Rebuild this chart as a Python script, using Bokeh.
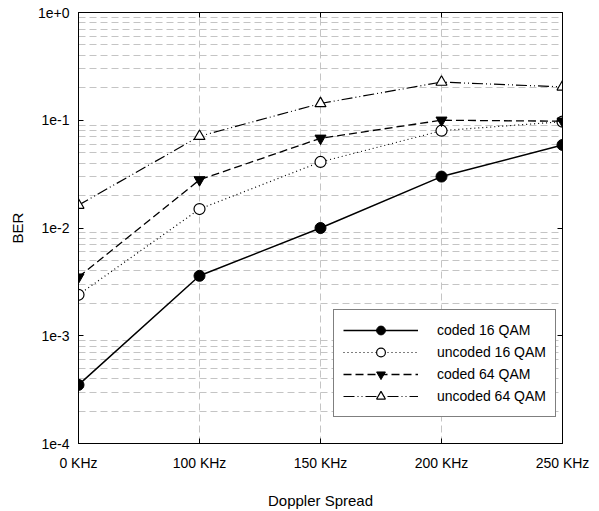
from bokeh.plotting import figure
from bokeh.models import FixedTicker, LinearAxis, LogAxis, Range1d
from bokeh.embed import file_html
from bokeh.resources import INLINE

# ---- data ----
x_labels = ["0 KHz", "100 KHz", "150 KHz", "200 KHz", "250 KHz"]
coded_16qam = [3.5e-4, 3.6e-3, 1.0e-2, 3.0e-2, 5.9e-2]
uncoded_16qam = [2.4e-3, 1.5e-2, 4.1e-2, 8.0e-2, 9.7e-2]
coded_64qam = [3.5e-3, 2.8e-2, 6.8e-2, 1.0e-1, 9.8e-2]
uncoded_64qam = [1.63e-2, 7.1e-2, 1.43e-1, 2.26e-1, 2.04e-1]
y_tick_values = [1e-4, 1e-3, 1e-2, 1e-1, 1e0]
y_tick_labels = ["1e-4", "1e-3", "1e-2", "1e-1", "1e+0"]

x_idx = list(range(len(x_labels)))
FONT = "Liberation Sans"

p = figure(width=599, height=511, y_axis_type="log",
           x_range=Range1d(x_idx[0], x_idx[-1]),
           y_range=Range1d(y_tick_values[0], y_tick_values[-1]),
           output_backend="svg", toolbar_location=None,
           min_border_left=78, min_border_right=37,
           min_border_top=12, min_border_bottom=68)
p.outline_line_color = "black"
p.outline_line_width = 1

x_ticker = FixedTicker(ticks=x_idx)
minor = [m * 10.0 ** e for e in range(-4, 0) for m in range(2, 10)]
y_ticker = FixedTicker(ticks=y_tick_values, minor_ticks=minor)

# bottom axis
xa = p.xaxis[0]
xa.ticker = x_ticker
xa.major_label_overrides = {i: lab for i, lab in zip(x_idx, x_labels)}
xa.axis_label = "Doppler Spread"
# left axis
ya = p.yaxis[0]
ya.ticker = y_ticker
ya.major_label_overrides = {v: lab for v, lab in zip(y_tick_values, y_tick_labels)}
ya.axis_label = "BER"

for ax in (xa, ya):
    ax.major_tick_in = 5
    ax.major_tick_out = 0
    ax.minor_tick_in = 0
    ax.minor_tick_out = 0
    ax.axis_line_color = "black"
    ax.major_tick_line_color = "black"
    ax.major_label_text_font = FONT
    ax.major_label_text_font_size = "14px"
    ax.major_label_text_color = "black"
    ax.axis_label_text_font = FONT
    ax.axis_label_text_font_size = "15px"
    ax.axis_label_text_font_style = "normal"
    ax.axis_label_text_color = "black"
xa.major_label_standoff = 11
xa.axis_label_standoff = 18
ya.major_label_standoff = 9
ya.axis_label_standoff = 9

# top & right tick-only axes (labels hidden)
top = LinearAxis(ticker=x_ticker, major_tick_in=5, major_tick_out=0,
                 minor_tick_in=0, minor_tick_out=0,
                 major_label_text_font_size="1px", major_label_text_color=None,
                 major_label_standoff=0)
right = LogAxis(ticker=y_ticker, major_tick_in=5, major_tick_out=0,
                minor_tick_in=0, minor_tick_out=0,
                major_label_text_font_size="1px", major_label_text_color=None,
                major_label_standoff=0)
p.add_layout(top, "above")
p.add_layout(right, "right")

# grids
p.xgrid.ticker = x_ticker
p.xgrid.grid_line_color = "#c4c4c4"
p.xgrid.grid_line_dash = "7 4"
p.ygrid.ticker = y_ticker
p.ygrid.grid_line_color = None
p.ygrid.minor_grid_line_color = "#c4c4c4"
p.ygrid.minor_grid_line_dash = "7 4"

# series
p.line(x_idx, coded_16qam, line_color="black", line_width=1.5, legend_label="coded 16 QAM")
p.scatter(x_idx, coded_16qam, marker="circle", size=11, fill_color="black",
          line_color="black", legend_label="coded 16 QAM")

p.line(x_idx, uncoded_16qam, line_color="black", line_width=1.2, line_dash="1 3",
       legend_label="uncoded 16 QAM")
p.scatter(x_idx, uncoded_16qam, marker="circle", size=11, fill_color="white",
          line_color="black", line_width=1.2, legend_label="uncoded 16 QAM")

p.line(x_idx, coded_64qam, line_color="black", line_width=1.3, line_dash="8 4",
       legend_label="coded 64 QAM")
p.scatter(x_idx, coded_64qam, marker="inverted_triangle", size=11, fill_color="black",
          line_color="black", legend_label="coded 64 QAM")

p.line(x_idx, uncoded_64qam, line_color="black", line_width=1.2,
       line_dash="11 3 1 3 1 3", legend_label="uncoded 64 QAM")
p.scatter(x_idx, uncoded_64qam, marker="triangle", size=11, fill_color="white",
          line_color="black", line_width=1.2, legend_label="uncoded 64 QAM")

lg = p.legend[0]
lg.location = (255, 26)
lg.margin = 0
lg.padding = 9
lg.spacing = 0
lg.glyph_width = 75
lg.glyph_height = 22
lg.label_standoff = 19
lg.label_height = 20
lg.label_text_font = FONT
lg.label_text_font_size = "14px"
lg.label_text_color = "black"
lg.border_line_color = "black"
lg.border_line_width = 1
lg.background_fill_color = "white"
lg.background_fill_alpha = 1.0

open("out.html", "w").write(file_html(p, INLINE))
